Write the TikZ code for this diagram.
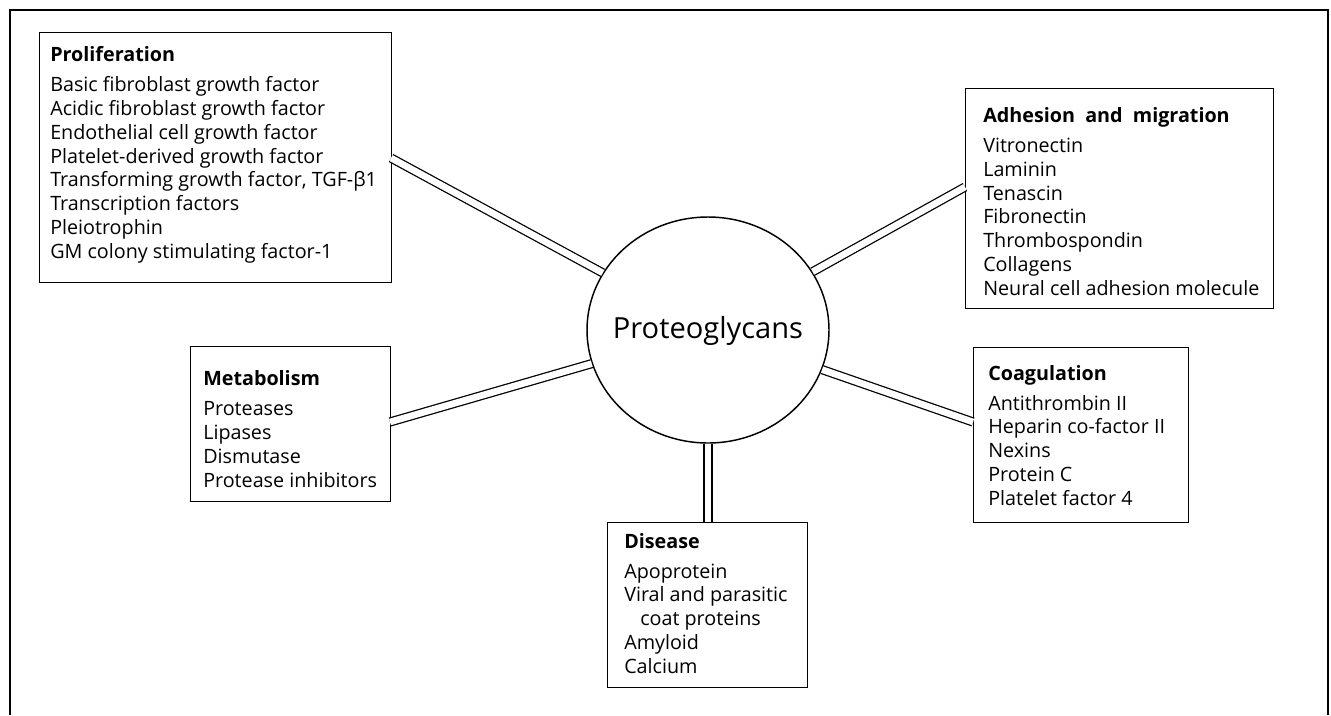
\documentclass[tikz,border=0pt]{standalone}
\usepackage{fontspec}
\setmainfont{Open Sans}
\usetikzlibrary{shapes.geometric}
\begin{document}
\begin{tikzpicture}[x=0.75pt,y=-0.75pt,
  box/.style={draw,line width=1.1pt,rectangle,inner sep=0pt,anchor=north west,fill=white},
  txt/.style={anchor=base west,inner sep=0pt,align=left,font=\fontsize{14.8}{17.8}\selectfont},
  conn/.style={draw,line width=0.95pt,double=white,double distance=5pt,line cap=butt},
  frame/.style={line width=1.6pt}]
\useasboundingbox (0,0) rectangle (1331,715);
\draw[frame] (10,715) -- (10,10) -- (1328,10) -- (1328,715);

% centre
\node[draw,ellipse,line width=1.1pt,minimum width={242*0.75pt},minimum height={226*0.75pt},inner sep=0pt] (pg) at (708,330) {};
\node[inner sep=0pt,anchor=base,font=\fontsize{21.8}{24}\selectfont] (pgt) at (708,338) {Proteoglycans};

% boxes
\node[box,minimum width={352*0.75pt},minimum height={250*0.75pt}] (prol) at (39,32) {};
\node[box,minimum width={308*0.75pt},minimum height={220*0.75pt}] (adh) at (965,88) {};
\node[box,minimum width={200*0.75pt},minimum height={155*0.75pt}] (met) at (190,346) {};
\node[box,minimum width={215*0.75pt},minimum height={175*0.75pt}] (coag) at (973,347) {};
\node[box,minimum width={200*0.75pt},minimum height={165*0.75pt}] (dis) at (607,522) {};

% texts (anchored at the baseline of their last line)
\node[txt] (prolt) at (50,258) {\textbf{Proliferation}\\[4.7pt]
Basic fibroblast growth factor\\
Acidic fibroblast growth factor\\
Endothelial cell growth factor\\
Platelet-derived growth factor\\
Transforming growth factor, TGF-β1\\
Transcription factors\\
Pleiotrophin\\
GM colony stimulating factor-1};

\node[txt] (adht) at (983,295) {\textbf{Adhesion\ \ and\ \ migration}\\[4.7pt]
Vitronectin\\
Laminin\\
Tenascin\\
Fibronectin\\
Thrombospondin\\
Collagens\\
Neural cell adhesion molecule};

\node[txt] (mett) at (203,487) {\textbf{Metabolism}\\[4.7pt]
Proteases\\
Lipases\\
Dismutase\\
Protease inhibitors};

\node[txt] (coagt) at (988,505) {\textbf{Coagulation}\\[4.7pt]
Antithrombin II\\
Heparin co-factor II\\
Nexins\\
Protein C\\
Platelet factor 4};

\node[txt] (dist) at (624,673) {\textbf{Disease}\\[4.7pt]
Apoprotein\\
Viral and parasitic\\
\hspace*{12pt}coat proteins\\
Amyloid\\
Calcium};

% connector ends on the boxes
\coordinate (cprol) at (391,158);
\coordinate (cadh) at (965,187);
\coordinate (cmet) at (390,422);
\coordinate (ccoag) at (973,422);
\coordinate (cdis) at (708,522);

\draw[conn] (pg) -- (cprol);
\draw[conn] (pg) -- (cadh);
\draw[conn] (pg) -- (cmet);
\draw[conn] (pg) -- (ccoag);
\draw[conn] (pg) -- (cdis);
\end{tikzpicture}
\end{document}
